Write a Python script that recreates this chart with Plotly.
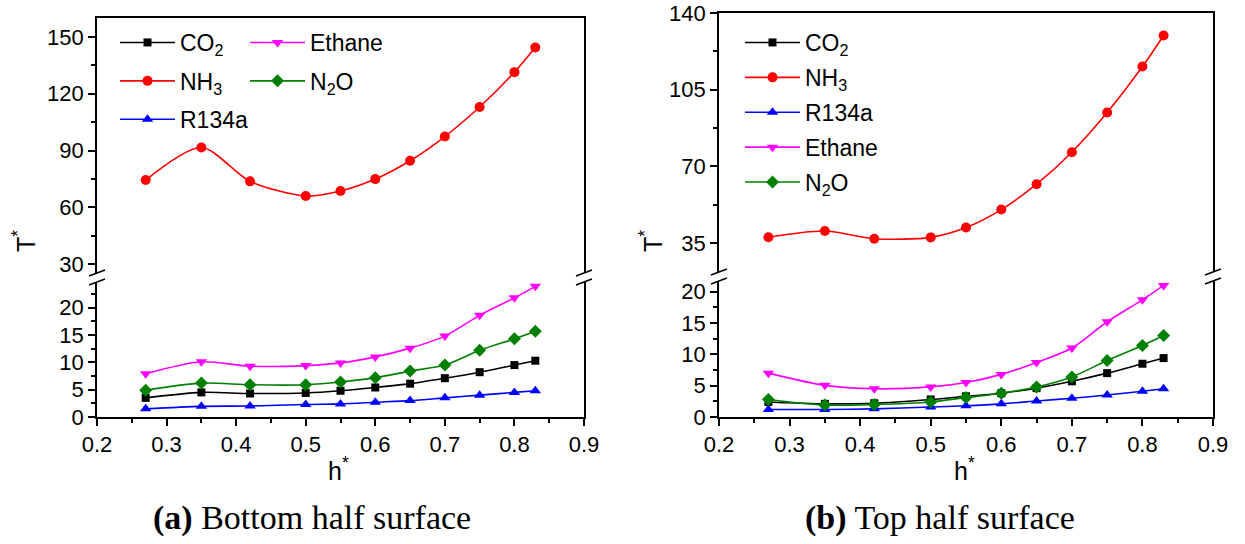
import plotly.graph_objects as go

# Dimensionless height h* at which T* was evaluated
h_star = [0.27, 0.35, 0.42, 0.50, 0.55, 0.60, 0.65, 0.70, 0.75, 0.80, 0.83]

# (a) Bottom half surface
bottom_co2 = [3.5, 4.5, 4.3, 4.4, 4.8, 5.4, 6.1, 7.1, 8.2, 9.5, 10.3]
bottom_nh3 = [74.4, 91.6, 73.7, 66.0, 68.6, 74.9, 84.6, 97.4, 113.0, 131.4, 144.4]
bottom_r134a = [1.5, 1.95, 2.0, 2.3, 2.4, 2.7, 3.0, 3.5, 4.0, 4.5, 4.8]
bottom_ethane = [7.9, 10.1, 9.3, 9.4, 9.9, 11.0, 12.6, 14.8, 18.6, 21.8, 23.9]
bottom_n2o = [4.9, 6.2, 5.9, 5.9, 6.4, 7.2, 8.4, 9.5, 12.2, 14.3, 15.7]

# (b) Top half surface
top_co2 = [2.4, 2.1, 2.2, 2.8, 3.3, 3.8, 4.6, 5.7, 7.0, 8.5, 9.4]
top_nh3 = [37.7, 40.5, 37.0, 37.6, 42.1, 50.3, 61.9, 76.5, 94.6, 115.6, 129.8]
top_r134a = [1.2, 1.2, 1.3, 1.6, 1.8, 2.1, 2.55, 3.0, 3.5, 4.1, 4.5]
top_ethane = [7.0, 5.05, 4.5, 4.8, 5.5, 6.8, 8.7, 11.0, 15.2, 18.7, 21.0]
top_n2o = [2.8, 1.9, 2.0, 2.4, 3.1, 3.8, 4.8, 6.4, 9.0, 11.4, 13.0]

W, H = 1245, 544
SANS = "Liberation Sans, Arial, sans-serif"
SERIF = "Liberation Serif, Times New Roman, serif"

# series styles: name, colour, marker symbol, marker size
STYLE = {
    "CO2": ("CO<sub>2</sub>", "black", "square", 8),
    "NH3": ("NH<sub>3</sub>", "#ff0000", "circle", 10),
    "R134a": ("R134a", "#0000ff", "triangle-up", 10),
    "Ethane": ("Ethane", "#ff00ff", "triangle-down", 10),
    "N2O": ("N<sub>2</sub>O", "#008000", "diamond", 10),
}


def px_x(p):
    return p / W


def px_y(p):
    return 1 - p / H


# panel geometry (pixels)
LEFT = dict(x0=97, x1=584, up=(18, 273), low=(282, 417))
RIGHT = dict(x0=719, x1=1213, up=(13, 272), low=(281, 417))

fig = go.Figure()


def add_series(key, y, xa, ya, legend, group):
    name, color, sym, size = STYLE[key]
    fig.add_trace(go.Scatter(
        x=h_star, y=y, name=name, mode="lines+markers",
        xaxis=xa, yaxis=ya, legend=legend, legendgroup=group,
        line=dict(color=color, width=1.6, shape="spline", smoothing=0.8),
        marker=dict(color=color, symbol=sym, size=size, line=dict(width=0)),
    ))


# left panel: lower section on x/y, upper section (NH3) on x2/y2
add_series("CO2", bottom_co2, "x", "y", "legend", "a1")
add_series("NH3", bottom_nh3, "x2", "y2", "legend", "a2")
add_series("R134a", bottom_r134a, "x", "y", "legend", "a3")
add_series("Ethane", bottom_ethane, "x", "y", "legend2", "a4")
add_series("N2O", bottom_n2o, "x", "y", "legend2", "a5")

# right panel: lower section on x3/y3, upper section (NH3) on x4/y4
add_series("CO2", top_co2, "x3", "y3", "legend3", "b1")
add_series("NH3", top_nh3, "x4", "y4", "legend3", "b2")
add_series("R134a", top_r134a, "x3", "y3", "legend3", "b3")
add_series("Ethane", top_ethane, "x3", "y3", "legend3", "b4")
add_series("N2O", top_n2o, "x3", "y3", "legend3", "b5")

tickfont = dict(family=SANS, size=22, color="black")
common = dict(showgrid=False, zeroline=False, linecolor="black", linewidth=1.6,
              tickcolor="black", tickwidth=1.5, tickfont=tickfont, automargin=False)


def x_lower(panel, anchor):
    return dict(common, domain=[px_x(panel["x0"]), px_x(panel["x1"])], anchor=anchor,
                range=[0.2, 0.9], tick0=0.2, dtick=0.1, tickformat=".1f",
                showline=True, mirror=False, ticks="outside", ticklen=7,
                minor=dict(ticks="outside", ticklen=4, dtick=0.05, tick0=0.2,
                           tickcolor="black", tickwidth=1.5))


def x_upper(panel, anchor):
    return dict(common, domain=[px_x(panel["x0"]), px_x(panel["x1"])], anchor=anchor,
                range=[0.2, 0.9], side="top", showline=True, ticks="",
                showticklabels=False)


def y_axis(panel, part, anchor, rng, dtick, minor):
    top, bot = panel[part]
    return dict(common, domain=[px_y(bot), px_y(top)], anchor=anchor, range=rng,
                tick0=0, dtick=dtick, showline=True, mirror=True,
                ticks="outside", ticklen=7,
                minor=dict(ticks="outside", ticklen=4, dtick=minor, tick0=0,
                           tickcolor="black", tickwidth=1.5))


legend_common = dict(
    font=dict(family=SANS, size=23, color="black"), bgcolor="rgba(0,0,0,0)",
    borderwidth=0, orientation="v", xanchor="left", yanchor="top",
    itemwidth=55, traceorder="grouped", itemclick=False,
)

fig.update_layout(
    width=W, height=H, margin=dict(l=0, r=0, t=0, b=0, autoexpand=False),
    paper_bgcolor="white", plot_bgcolor="white", showlegend=True,
    xaxis=x_lower(LEFT, "y"),
    xaxis2=x_upper(LEFT, "y2"),
    yaxis=y_axis(LEFT, "low", "x", [0, 24.7], 5, 2.5),
    yaxis2=y_axis(LEFT, "up", "x2", [25.3, 160], 30, 15),
    xaxis3=x_lower(RIGHT, "y3"),
    xaxis4=x_upper(RIGHT, "y4"),
    yaxis3=y_axis(RIGHT, "low", "x3", [0, 21.7], 5, 2.5),
    yaxis4=y_axis(RIGHT, "up", "x4", [21.8, 140.05], 35, 17.5),
    legend=dict(legend_common, x=px_x(115), y=px_y(21), tracegroupgap=5.5),
    legend2=dict(legend_common, x=px_x(245), y=px_y(21), tracegroupgap=5.5),
    legend3=dict(legend_common, x=px_x(740), y=px_y(21), tracegroupgap=2),
)

# axis break marks on both vertical edges of each panel
shapes = []
for panel in (LEFT, RIGHT):
    for xe in (panel["x0"], panel["x1"]):
        for ye in (panel["up"][1], panel["low"][0]):
            shapes.append(dict(type="line", xref="paper", yref="paper",
                               x0=px_x(xe - 8), y0=px_y(ye + 3),
                               x1=px_x(xe + 8), y1=px_y(ye - 3),
                               line=dict(color="black", width=1.6)))
fig.update_layout(shapes=shapes)


def label(text, x, y, size, family=SANS, angle=0):
    return dict(text=text, x=px_x(x), y=px_y(y), xref="paper", yref="paper",
                xanchor="center", yanchor="middle", showarrow=False,
                textangle=angle, font=dict(family=family, size=size, color="black"))


annotations = []
for panel, tx in ((LEFT, 24), (RIGHT, 651)):
    annotations.append(label("T<sup>*</sup>", tx, 241, 25, angle=-90))
    cx = (panel["x0"] + panel["x1"]) / 2
    annotations.append(label("h<sup>*</sup>", cx - 2, 469, 25))

annotations.append(label("<b>(a)</b> Bottom half surface", 312, 518, 34, SERIF))
annotations.append(label("<b>(b)</b> Top half surface", 940, 518, 34, SERIF))
fig.update_layout(annotations=annotations)

fig.write_html("out.html")
